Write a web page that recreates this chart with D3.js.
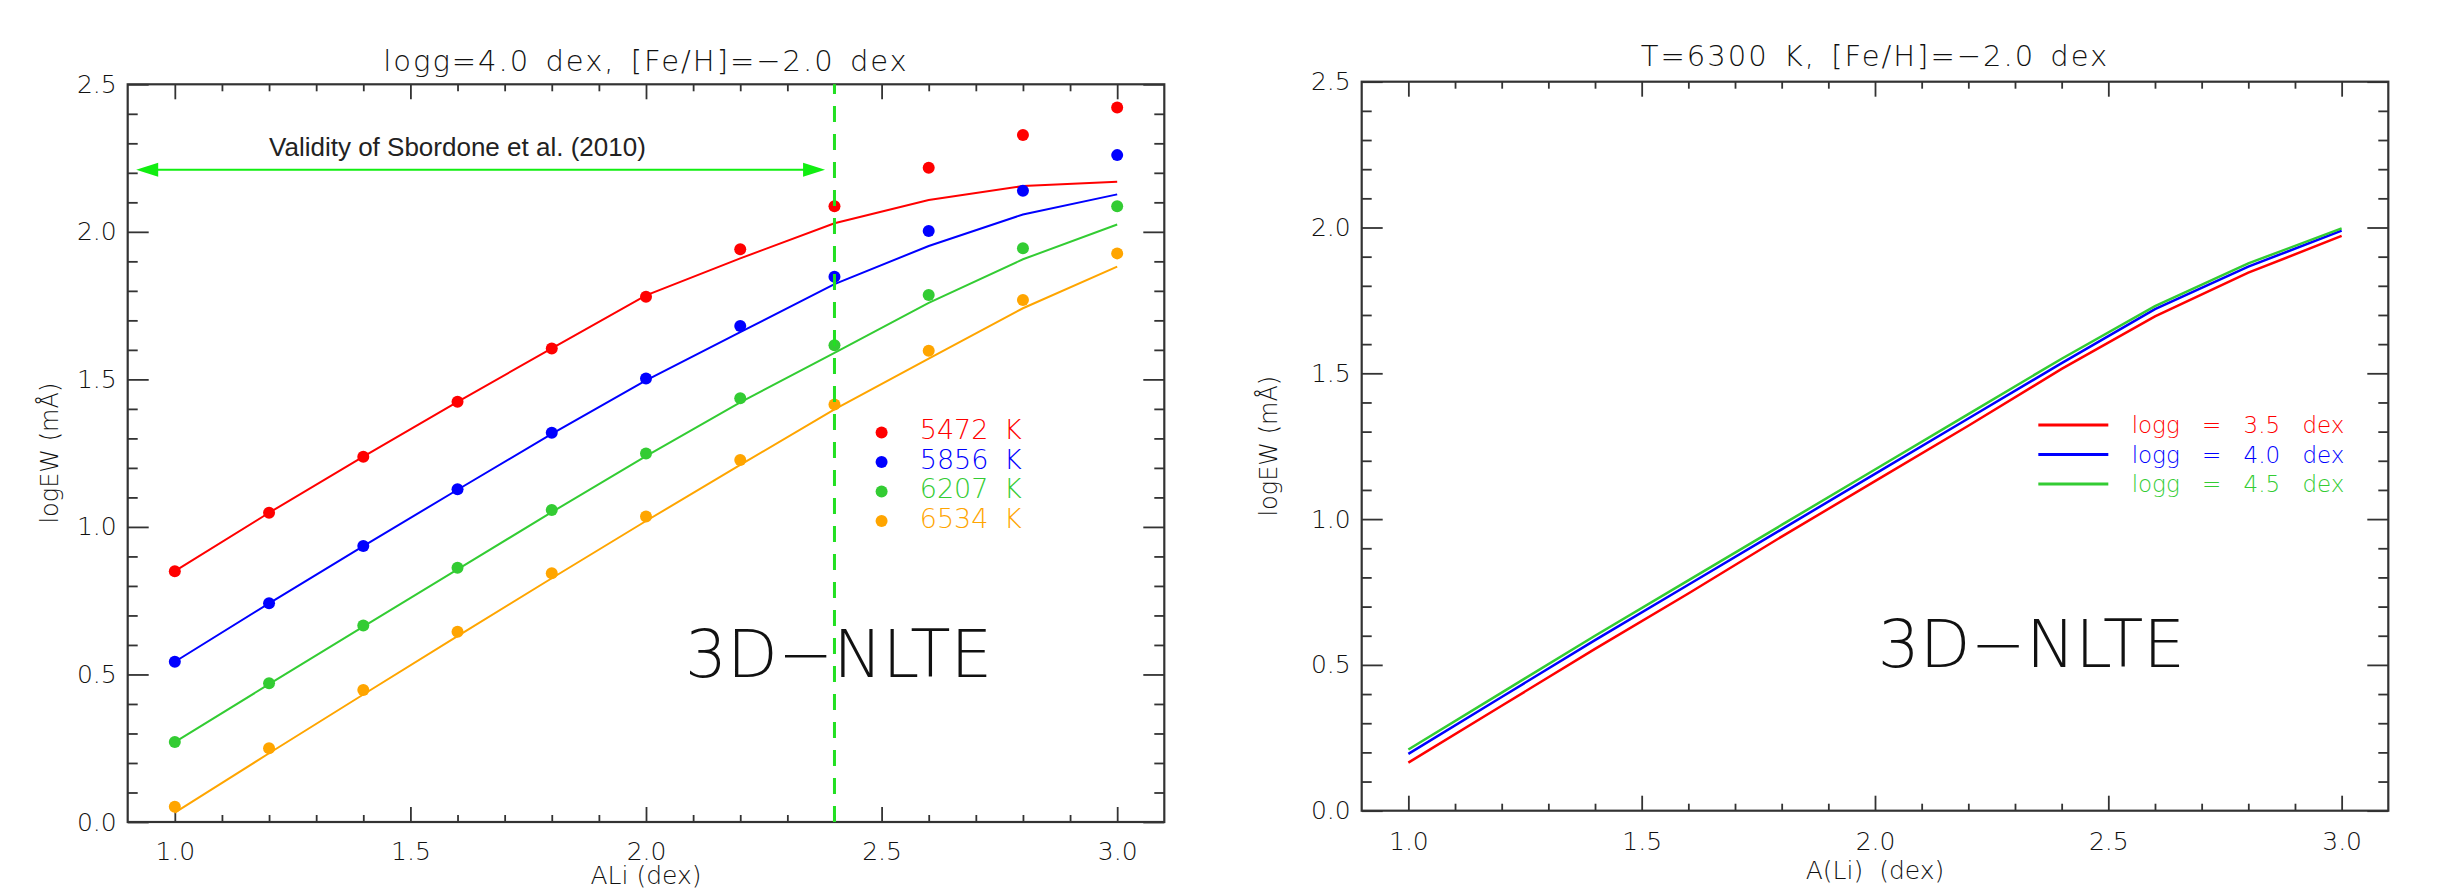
<!DOCTYPE html>
<html>
<head>
<meta charset="utf-8">
<script src="https://cdn.jsdelivr.net/npm/d3@7"></script>
<style>
  body { margin: 0; background: #fff; }
  .hershey { font-family: "DejaVu Sans", sans-serif; font-weight: 200; fill: #111; }
</style>
</head>
<body>
<svg id="fig" width="2441" height="891"></svg>
<script>
// ---- data ----
var aLi = [1.0, 1.2, 1.4, 1.6, 1.8, 2.0, 2.2, 2.4, 2.6, 2.8, 3.0];

var xMajor = [1.0, 1.5, 2.0, 2.5, 3.0];
var yMajor = [0.0, 0.5, 1.0, 1.5, 2.0, 2.5];

// left panel: logg=4.0, 4 temperatures, dots = 3D-NLTE EW, lines = fit
var tempLabels = ["5472 K", "5856 K", "6207 K", "6534 K"];
var tempColors = ["#ff0000", "#0000ff", "#33cc33", "#ffa500"];
var dots5472 = [0.850, 1.048, 1.238, 1.424, 1.605, 1.780, 1.941, 2.087, 2.217, 2.328, 2.421];
var dots5856 = [0.543, 0.741, 0.935, 1.128, 1.319, 1.503, 1.681, 1.848, 2.003, 2.139, 2.260];
var dots6207 = [0.271, 0.470, 0.666, 0.862, 1.057, 1.249, 1.436, 1.616, 1.786, 1.944, 2.087];
var dots6534 = [0.052, 0.250, 0.447, 0.645, 0.843, 1.035, 1.227, 1.415, 1.597, 1.769, 1.927];
var line5472 = [0.850, 1.048, 1.238, 1.424, 1.605, 1.785, 1.910, 2.029, 2.108, 2.155, 2.170];
var line5856 = [0.543, 0.741, 0.935, 1.126, 1.315, 1.497, 1.660, 1.823, 1.952, 2.059, 2.127];
var line6207 = [0.271, 0.467, 0.662, 0.856, 1.050, 1.240, 1.422, 1.590, 1.759, 1.907, 2.025];
var line6534 = [0.032, 0.233, 0.432, 0.630, 0.826, 1.020, 1.210, 1.398, 1.570, 1.741, 1.882];

// right panel: T=6300 K, 3 gravities
var loggLabels = ["logg = 3.5 dex", "logg = 4.0 dex", "logg = 4.5 dex"];
var loggColors = ["#ff0000", "#0000ff", "#33cc33"];
var logg35 = [0.165, 0.360, 0.555, 0.745, 0.940, 1.130, 1.320, 1.515, 1.695, 1.845, 1.971];
var logg40 = [0.195, 0.390, 0.585, 0.775, 0.965, 1.155, 1.345, 1.535, 1.720, 1.866, 1.989];
var logg45 = [0.210, 0.405, 0.600, 0.790, 0.980, 1.170, 1.360, 1.550, 1.730, 1.877, 1.997];

var validityLimit = 2.4;

var svg = d3.select("#fig");

function drawPanel(p) {
    var x = d3.scaleLinear().domain([0.9, 3.1]).range([p.left, p.right]);
    var y = d3.scaleLinear().domain([0, 2.5]).range([p.bottom, p.top]);

    var xMinor = d3.range(11, 30).filter(function(i) { return i % 5 !== 0; }).map(function(i) { return i / 10; });
    var yMinor = d3.range(1, 25).filter(function(i) { return i % 5 !== 0; }).map(function(i) { return i / 10; });

    var g = svg.append("g");

    function styleAxis(sel) {
        sel.select(".domain").remove();
        sel.selectAll(".tick line").attr("stroke", "#333").attr("stroke-width", 1.8);
        sel.selectAll(".tick text").attr("class", "hershey").style("font-size", "25px");
    }

    // bottom + top
    g.append("g").attr("transform", "translate(0," + p.bottom + ")")
        .call(d3.axisBottom(x).tickValues(xMajor).tickSize(-15).tickPadding(p.xPad).tickFormat(d3.format(".1f")))
        .call(styleAxis);
    g.append("g").attr("transform", "translate(0," + p.bottom + ")")
        .call(d3.axisBottom(x).tickValues(xMinor).tickSize(-7).tickFormat(""))
        .call(styleAxis);
    g.append("g").attr("transform", "translate(0," + p.top + ")")
        .call(d3.axisTop(x).tickValues(xMajor).tickSize(-15).tickFormat(""))
        .call(styleAxis);
    g.append("g").attr("transform", "translate(0," + p.top + ")")
        .call(d3.axisTop(x).tickValues(xMinor).tickSize(-7).tickFormat(""))
        .call(styleAxis);

    // left + right
    g.append("g").attr("transform", "translate(" + p.left + ",0)")
        .call(d3.axisLeft(y).tickValues(yMajor).tickSize(-21).tickPadding(11).tickFormat(d3.format(".1f")))
        .call(styleAxis);
    g.append("g").attr("transform", "translate(" + p.left + ",0)")
        .call(d3.axisLeft(y).tickValues(yMinor).tickSize(-10).tickFormat(""))
        .call(styleAxis);
    g.append("g").attr("transform", "translate(" + p.right + ",0)")
        .call(d3.axisRight(y).tickValues(yMajor).tickSize(-21).tickFormat(""))
        .call(styleAxis);
    g.append("g").attr("transform", "translate(" + p.right + ",0)")
        .call(d3.axisRight(y).tickValues(yMinor).tickSize(-10).tickFormat(""))
        .call(styleAxis);

    g.append("rect")
        .attr("x", p.left).attr("y", p.top)
        .attr("width", p.right - p.left).attr("height", p.bottom - p.top)
        .attr("fill", "none").attr("stroke", "#333").attr("stroke-width", 2.2);

    // titles
    g.append("text").attr("class", "hershey")
        .attr("x", (p.left + p.right) / 2).attr("y", p.titleY)
        .attr("text-anchor", "middle")
        .style("font-size", "29px").style("letter-spacing", "2px").style("word-spacing", "4px")
        .text(p.title);
    g.append("text").attr("class", "hershey")
        .attr("x", (p.left + p.right) / 2).attr("y", p.xLabelY)
        .attr("text-anchor", "middle")
        .style("font-size", "25px").style("word-spacing", p.xWordSpace)
        .text(p.xLabel);
    g.append("text").attr("class", "hershey")
        .attr("transform", "translate(" + p.yLabelX + "," + (p.top + p.bottom) / 2 + ") rotate(-90)")
        .attr("text-anchor", "middle")
        .style("font-size", "24px")
        .text("logEW (m\u00c5)");

    g.append("text").attr("class", "hershey")
        .attr("x", x(p.tagX)).attr("y", y(p.tagY))
        .style("font-size", "66px")
        .text("3D\u2212NLTE");

    return { g: g, x: x, y: y };
}

// ---------- left panel ----------
var L = drawPanel({
    left: 127.7, right: 1164.3, top: 84.3, bottom: 822,
    xPad: 20, titleY: 71, xLabelY: 884, yLabelX: 58, xWordSpace: "0px",
    title: "logg=4.0 dex, [Fe/H]=\u22122.0 dex", xLabel: "ALi (dex)",
    tagX: 2.083, tagY: 0.49
});

var lineGen = d3.line()
    .x(function(d, i) { return L.x(aLi[i]); })
    .y(function(d) { return L.y(d); });

var fitLines = [line5472, line5856, line6207, line6534];
var ewDots = [dots5472, dots5856, dots6207, dots6534];

L.g.selectAll(".fit")
    .data(fitLines)
    .enter().append("path")
    .attr("class", "fit")
    .attr("d", lineGen)
    .attr("fill", "none")
    .attr("stroke", function(d, i) { return tempColors[i]; })
    .attr("stroke-width", 2);

ewDots.forEach(function(series, k) {
    L.g.append("g").selectAll("circle")
        .data(series)
        .enter().append("circle")
        .attr("cx", function(d, i) { return L.x(aLi[i]); })
        .attr("cy", function(d) { return L.y(d); })
        .attr("r", 6)
        .attr("fill", tempColors[k]);
});

// validity limit of Sbordone et al. (2010)
L.g.append("line")
    .attr("x1", L.x(validityLimit)).attr("x2", L.x(validityLimit))
    .attr("y1", L.y(0)).attr("y2", L.y(2.5))
    .attr("stroke", "#22e022").attr("stroke-width", 3)
    .attr("stroke-dasharray", "16,12");

var arrowY = L.y(2.21), ax0 = L.x(0.918), ax1 = L.x(2.38);
L.g.append("line")
    .attr("x1", ax0 + 10).attr("x2", ax1 - 10)
    .attr("y1", arrowY).attr("y2", arrowY)
    .attr("stroke", "#11ee11").attr("stroke-width", 2);
L.g.append("path")
    .attr("d", "M" + ax0 + "," + arrowY + "L" + (ax0 + 22) + "," + (arrowY - 7) + "L" + (ax0 + 22) + "," + (arrowY + 7) + "Z")
    .attr("fill", "#11ee11");
L.g.append("path")
    .attr("d", "M" + ax1 + "," + arrowY + "L" + (ax1 - 22) + "," + (arrowY - 7) + "L" + (ax1 - 22) + "," + (arrowY + 7) + "Z")
    .attr("fill", "#11ee11");
L.g.append("text")
    .attr("x", L.x(1.2)).attr("y", L.y(2.257))
    .style("font-family", "'Liberation Sans', Arial, sans-serif")
    .style("font-size", "26px").attr("fill", "#222")
    .text("Validity of Sbordone et al. (2010)");

// temperature legend
var legL = L.g.selectAll(".legT")
    .data(tempLabels)
    .enter().append("g")
    .attr("class", "legT")
    .attr("transform", function(d, i) { return "translate(0," + L.y(1.32 - 0.1 * i) + ")"; });
legL.append("circle")
    .attr("cx", L.x(2.5)).attr("cy", 0).attr("r", 6)
    .attr("fill", function(d, i) { return tempColors[i]; });
legL.append("text")
    .attr("class", "hershey")
    .attr("x", L.x(2.581)).attr("y", 6.6)
    .style("font-size", "27px").style("word-spacing", "7px")
    .style("fill", function(d, i) { return tempColors[i]; })
    .text(function(d) { return d; });

// ---------- right panel ----------
var R = drawPanel({
    left: 1361.7, right: 2388.3, top: 81.7, bottom: 810.7,
    xPad: 22, titleY: 66, xLabelY: 879, yLabelX: 1277, xWordSpace: "8px",
    title: "T=6300 K, [Fe/H]=\u22122.0 dex", xLabel: "A(Li) (dex)",
    tagX: 2.006, tagY: 0.494
});

var lineGenR = d3.line()
    .x(function(d, i) { return R.x(aLi[i]); })
    .y(function(d) { return R.y(d); });

R.g.selectAll(".grav")
    .data([logg35, logg40, logg45])
    .enter().append("path")
    .attr("class", "grav")
    .attr("d", lineGenR)
    .attr("fill", "none")
    .attr("stroke", function(d, i) { return loggColors[i]; })
    .attr("stroke-width", 2.5);

var legR = R.g.selectAll(".legG")
    .data(loggLabels)
    .enter().append("g")
    .attr("class", "legG")
    .attr("transform", function(d, i) { return "translate(0," + R.y(1.323 - 0.1015 * i) + ")"; });
legR.append("line")
    .attr("x1", R.x(2.35)).attr("x2", R.x(2.5))
    .attr("stroke", function(d, i) { return loggColors[i]; })
    .attr("stroke-width", 3);
legR.append("text")
    .attr("class", "hershey")
    .attr("x", R.x(2.55)).attr("y", 8.3)
    .style("font-size", "23px").style("word-spacing", "15px")
    .style("fill", function(d, i) { return loggColors[i]; })
    .text(function(d) { return d; });
</script>
</body>
</html>
